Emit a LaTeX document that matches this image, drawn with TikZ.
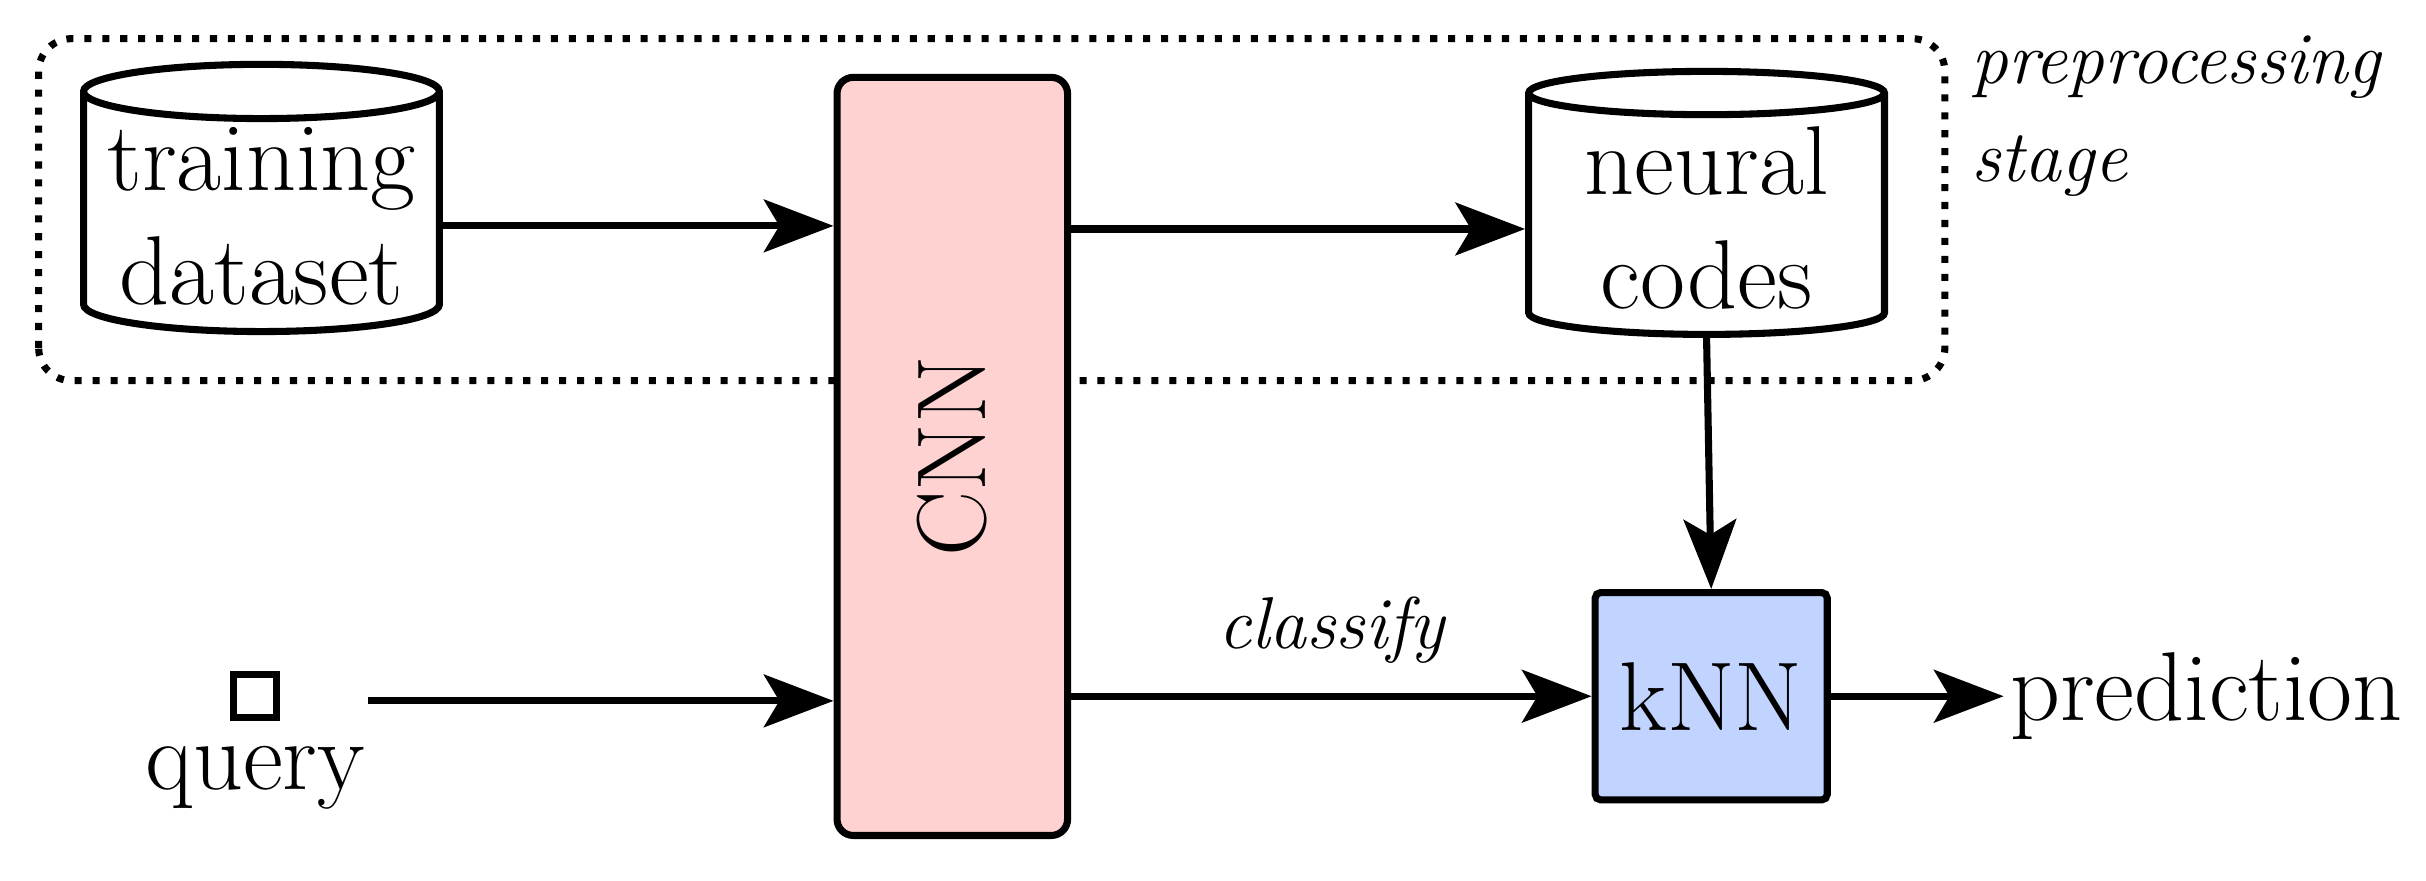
\documentclass[tikz,border=0pt]{standalone}
\usetikzlibrary{shapes.geometric,arrows.meta,positioning}
\definecolor{knnblue}{RGB}{193,212,255}
\definecolor{cnnred}{RGB}{255,210,210}
\tikzset{
  every node/.style={font=\fontsize{18}{21}\selectfont},
  note/.style={font=\fontsize{13.5}{18}\selectfont\itshape},
  flow/.style={line width=1.3pt,-{Stealth[length=4.5mm,width=3.4mm,inset=1mm]}},
  store/.style={draw,line width=1.3pt,shape=cylinder,shape border rotate=90,aspect=0.17,
    minimum width=2.3cm,minimum height=1.7cm,align=center,inner sep=1pt},
  block/.style={draw,line width=1.3pt,rounded corners=3pt}
}
\begin{document}
\begin{tikzpicture}
\useasboundingbox (0,0) rectangle (15.68,5.69);
\draw[line width=1.3pt,dotted,rounded corners=6pt](0.25,3.23) rectangle (12.57,5.44);
\node[anchor=north west,align=left,note,inner sep=1pt] (stage) at (12.7,5.5) {preprocessing\\stage};
%
\node[store] (train) at (1.69,4.29) {training\\dataset};
\node[store] (codes) at (11.03,4.28) {neural\\codes};
\node[block,fill=cnnred,minimum width=1.49cm,minimum height=4.9cm] (cnn) at (6.155,2.74) {};
\node[rotate=90] (cnnlbl) at (cnn.center) {CNN};
\node[block,rounded corners=1pt,fill=knnblue,minimum width=1.5cm,minimum height=1.34cm] (knn) at (11.06,1.19) {kNN};
%
\node[draw,line width=1.3pt,minimum size=0.28cm,inner sep=0pt] (sq) at (1.65,1.19) {};
\node[below=1pt of sq] (query) {query};
\node[anchor=west,inner sep=1pt] (pred) at (12.95,1.19) {prediction};
\coordinate (qend) at (2.38,1.16);
%
\draw[flow] (train.east|-0,4.23) -- (cnn.west|-0,4.23);
\draw[flow] (cnn.east|-0,4.21) -- (codes.west|-0,4.21);
\draw[flow] (qend) -- (cnn.west|-qend);
\draw[flow] (cnn.east|-knn) -- node[above=2pt,note]{classify} (knn.west);
\draw[flow] (codes.south) -- (knn.north);
\draw[flow] (knn.east) -- (pred.west);
\end{tikzpicture}
\end{document}
